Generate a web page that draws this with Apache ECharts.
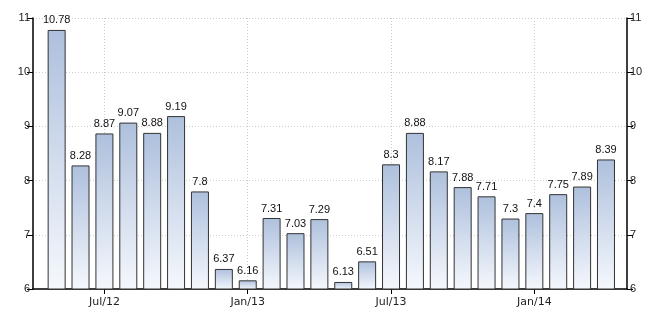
<!DOCTYPE html>
<html><head><meta charset="utf-8">
<style>html,body{margin:0;padding:0;background:#fff}#c{width:664px;height:317px}</style>
<script src="https://cdn.jsdelivr.net/npm/echarts@6/dist/echarts.min.js"></script>
</head><body><div id="c"></div>
<script>
const categories = ['May/12','Jun/12','Jul/12','Aug/12','Sep/12','Oct/12','Nov/12','Dec/12','Jan/13','Feb/13','Mar/13','Apr/13','May/13','Jun/13','Jul/13','Aug/13','Sep/13','Oct/13','Nov/13','Dec/13','Jan/14','Feb/14','Mar/14','Apr/14'];
const values = [10.78,8.28,8.87,9.07,8.88,9.19,7.8,6.37,6.16,7.31,7.03,7.29,6.13,6.51,8.3,8.88,8.17,7.88,7.71,7.3,7.4,7.75,7.89,8.39];
const tickLabels = ['Jul/12','Jan/13','Jul/13','Jan/14'];
const yTicks = [6,7,8,9,10,11];

const tickIdx = tickLabels.map(t => categories.indexOf(t));
const chart = echarts.init(document.getElementById('c'), null, {renderer:'canvas'});
const font = 'Liberation Sans';
const yAxisCommon = {
  type:'value', min:6, max:11, interval:1,
  axisLine:{show:true, onZero:false, lineStyle:{color:'#000', width:1.5}},
  axisTick:{show:true, length:6, lineStyle:{color:'#000'}},
  axisLabel:{color:'#222', fontFamily:font, fontSize:11, margin:3}
};
chart.setOption({
  animation:false,
  grid:{left:33, right:37, top:18, bottom:28},
  xAxis:{
    type:'value', min:-0.99, max:23.88,
    axisLine:{show:true, onZero:false, lineStyle:{color:'#000', width:1.5}},
    axisTick:{show:true, customValues:tickIdx, length:5, lineStyle:{color:'#000'}},
    axisLabel:{customValues:tickIdx, formatter:(v)=>categories[Math.round(v)], color:'#222', fontFamily:'DejaVu Sans', fontSize:11, margin:8},
    splitLine:{show:true, lineStyle:{color:'#ccc', type:[1,2]}}
  },
  yAxis:[
    Object.assign({position:'left', splitLine:{show:true, lineStyle:{color:'#ccc', type:[1,2]}}}, yAxisCommon),
    Object.assign({position:'right', splitLine:{show:false}}, yAxisCommon)
  ],
  series:[{
    type:'bar', data:values.map((v,i)=>[i,v]), barWidth:18, yAxisIndex:0,
    itemStyle:{
      color:new echarts.graphic.LinearGradient(0,0,0,1,[{offset:0,color:'#aec0dd'},{offset:1,color:'#f5f8fd'}]),
      borderColor:'#333', borderWidth:1
    },
    label:{show:true, position:'top', distance:4, color:'#111', fontFamily:font, fontSize:11,
      formatter:(p)=>String(p.value[1])}
  }]
});
</script></body></html>
